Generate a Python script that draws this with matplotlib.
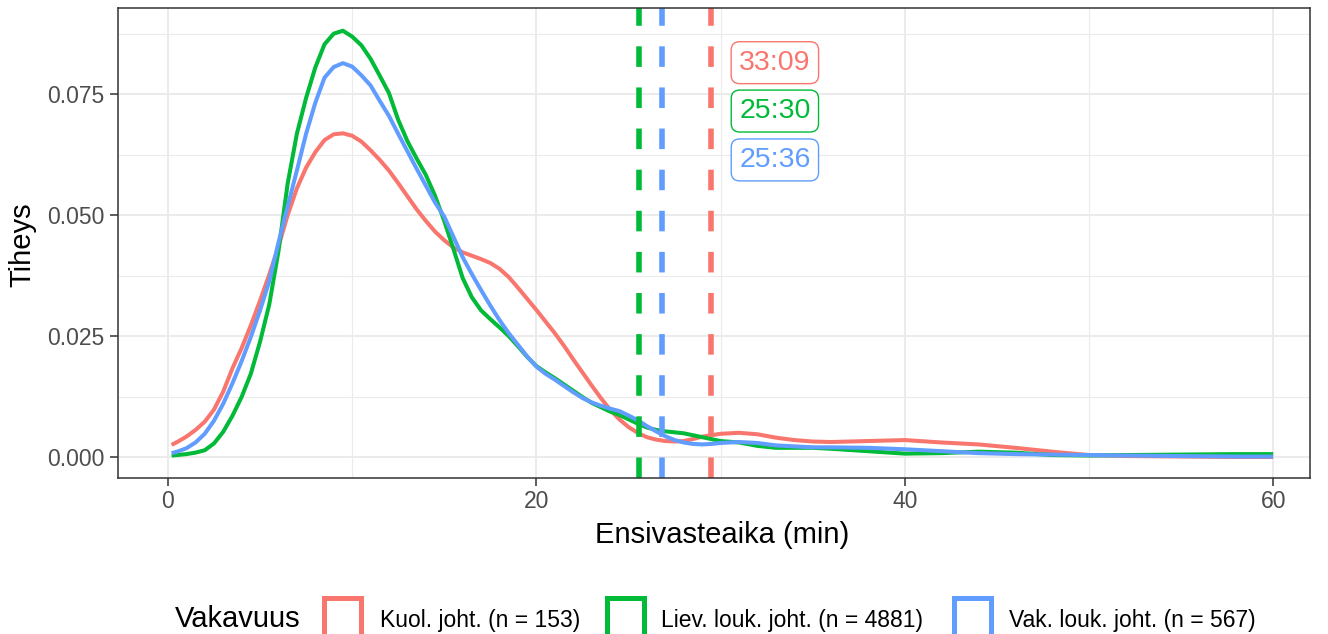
import matplotlib
matplotlib.use('Agg')
import matplotlib.pyplot as plt
from matplotlib.patches import Rectangle

plt.rcParams['font.family'] = ['Liberation Sans', 'DejaVu Sans']

# data
minutes = [0.2, 0.5, 1, 1.5, 2, 2.5, 3, 3.5, 4, 4.5, 5, 5.5, 6, 6.5, 7, 7.5, 8, 8.5,
           9, 9.5, 10, 10.5, 11, 11.5, 12, 12.5, 13, 13.5, 14, 14.5, 15, 15.5, 16,
           16.5, 17, 17.5, 18, 18.5, 19, 19.5, 20, 20.5, 21, 21.5, 22, 22.5, 23,
           23.5, 24, 24.5, 25, 25.5, 26, 26.5, 27, 27.5, 28, 28.5, 29, 29.5, 30,
           31, 32, 33, 34, 35, 36, 38, 40, 42, 44, 46, 48, 50, 52, 55, 58, 60]

dens_kuol = [0.0025, 0.0031, 0.0042, 0.0056, 0.0073, 0.0098, 0.0135, 0.0183, 0.0225,
             0.0272, 0.0323, 0.0377, 0.0435, 0.05, 0.0555, 0.0598, 0.063, 0.0655,
             0.0667, 0.0669, 0.0664, 0.0652, 0.0634, 0.0614, 0.0592, 0.0566, 0.0539,
             0.0512, 0.0488, 0.0466, 0.0448, 0.0433, 0.0423, 0.0416, 0.0409, 0.0401,
             0.0389, 0.0372, 0.035, 0.0327, 0.0304, 0.028, 0.0256, 0.023, 0.0202,
             0.0175, 0.0148, 0.0122, 0.0098, 0.0078, 0.0062, 0.005, 0.0041, 0.0036,
             0.0033, 0.0032, 0.0033, 0.0037, 0.0042, 0.0045, 0.0048,
             0.005, 0.0047, 0.004, 0.0035, 0.0032, 0.0031, 0.0033, 0.0035, 0.003,
             0.0026, 0.0019, 0.0011, 0.0004, 0.0002, 0.0001, 0.0, 0.0]

dens_liev = [0.0003, 0.0004, 0.0006, 0.0009, 0.0014, 0.0028, 0.0052, 0.0085, 0.0124,
             0.0172, 0.0238, 0.0315, 0.0425, 0.0565, 0.0668, 0.0742, 0.0805, 0.0853,
             0.0875, 0.0881, 0.0869, 0.0851, 0.0823, 0.0788, 0.0752, 0.0697, 0.0653,
             0.0617, 0.0583, 0.054, 0.0488, 0.043, 0.037, 0.033, 0.0303, 0.0285,
             0.0268, 0.025, 0.0229, 0.0207, 0.0188, 0.0175, 0.0163, 0.015, 0.0137,
             0.0124, 0.0112, 0.0103, 0.0094, 0.0087, 0.0078, 0.0069, 0.0061, 0.0056,
             0.0053, 0.0051, 0.0049, 0.0045, 0.0041, 0.0037, 0.0033,
             0.003, 0.0023, 0.0019, 0.0019, 0.0019, 0.0017, 0.0012, 0.0007, 0.0008,
             0.0011, 0.0009, 0.0004, 0.0003, 0.0004, 0.0005, 0.0006, 0.0006]

dens_vak = [0.0008, 0.0011, 0.0018, 0.003, 0.0048, 0.0075, 0.011, 0.0152, 0.0198,
            0.0248, 0.0303, 0.0363, 0.0443, 0.0518, 0.0592, 0.0668, 0.0732, 0.0784,
            0.0806, 0.0814, 0.0807, 0.0789, 0.0768, 0.0736, 0.0705, 0.0668, 0.0632,
            0.0596, 0.0561, 0.0526, 0.0497, 0.0455, 0.0413, 0.0378, 0.0345, 0.0313,
            0.0283, 0.0256, 0.0232, 0.0208, 0.0187, 0.0172, 0.016, 0.0147, 0.0134,
            0.0122, 0.0113, 0.0106, 0.01, 0.0095, 0.0086, 0.0076, 0.0064, 0.0053,
            0.0043, 0.0035, 0.003, 0.0027, 0.0026, 0.0027, 0.0029,
            0.0031, 0.0029, 0.0024, 0.0022, 0.002, 0.002, 0.0019, 0.0016, 0.0012,
            0.0008, 0.0006, 0.0005, 0.0004, 0.0003, 0.0002, 0.0001, 0.0001]

groups = ['Kuol. joht. (n = 153)', 'Liev. louk. joht. (n = 4881)', 'Vak. louk. joht. (n = 567)']
colors = ['#F8766D', '#00BA38', '#619CFF']
vline_x = [29.5, 25.6, 26.8]
mean_labels = ['33:09', '25:30', '25:36']

fig = plt.figure(figsize=(13.28, 6.34), dpi=100)
ax = fig.add_axes([118 / 1328, 156 / 634, 1192 / 1328, 470 / 634])

# grid like theme_bw
ax.set_xticks([0, 20, 40, 60])
ax.set_xticks([10, 30, 50], minor=True)
ax.set_yticks([0, 0.025, 0.05, 0.075])
ax.set_yticks([0.0125, 0.0375, 0.0625, 0.0875], minor=True)
ax.set_yticklabels(['0.000', '0.025', '0.050', '0.075'])
ax.grid(True, which='major', color='#EBEBEB', lw=1.4)
ax.grid(True, which='minor', color='#EBEBEB', lw=0.8)
ax.set_axisbelow(True)
ax.tick_params(which='minor', length=0)
ax.tick_params(which='major', length=5.5, width=1.1, color='#333333',
               labelsize=16.5, labelcolor='#4D4D4D', pad=3)
ax.tick_params(axis='y', pad=4.5)
for s in ax.spines.values():
    s.set_color('#333333')
    s.set_linewidth(1.1)

for dens, col in zip([dens_kuol, dens_liev, dens_vak], colors):
    ax.plot(minutes, dens, color=col, lw=2.9, solid_capstyle='butt',
            solid_joinstyle='round')

for vx, col in zip(vline_x, colors):
    ax.axvline(vx, color=col, lw=4, dashes=(3.7, 3.7))

label_y = [0.0815, 0.0715, 0.0614]
for txt, col, ly in zip(mean_labels, colors, label_y):
    ax.text(32.95, ly, txt, color=col, fontsize=20.5, ha='center', va='center',
            bbox=dict(boxstyle='round,pad=0.28,rounding_size=0.3', fc='white',
                      ec=col, lw=1.0))

ax.set_xlim(-2.71, 62.0)
ax.set_ylim(-0.00434, 0.0928)

ax.set_xlabel('Ensivasteaika (min)', fontsize=21, color='black')
ax.xaxis.set_label_coords((722 - 118) / 1192, (478 - 535) / 470)
ax.xaxis.label.set_va('center')
ax.set_ylabel('Tiheys', fontsize=21, color='black')
ax.yaxis.set_label_coords((22 - 118) / 1192, (478 - 245) / 470)
ax.yaxis.label.set_va('center')

# legend at the bottom, drawn by hand in figure pixels
base_y = (634 - 627) / 634
fig.text(175 / 1328, base_y, 'Vakavuus', fontsize=21, va='baseline', ha='left')
key_x = [323.5, 607, 953.5]
label_x = [380, 661, 1009]
for kx, lx, col, name in zip(key_x, label_x, colors, groups):
    fig.add_artist(Rectangle((kx / 1328, (634 - 640) / 634), 37 / 1328, 42.5 / 634,
                             transform=fig.transFigure, fill=False, ec=col, lw=3.6))
    fig.text(lx / 1328, base_y, name, fontsize=16.5, va='baseline', ha='left')

fig.savefig('out.png', dpi=100)
